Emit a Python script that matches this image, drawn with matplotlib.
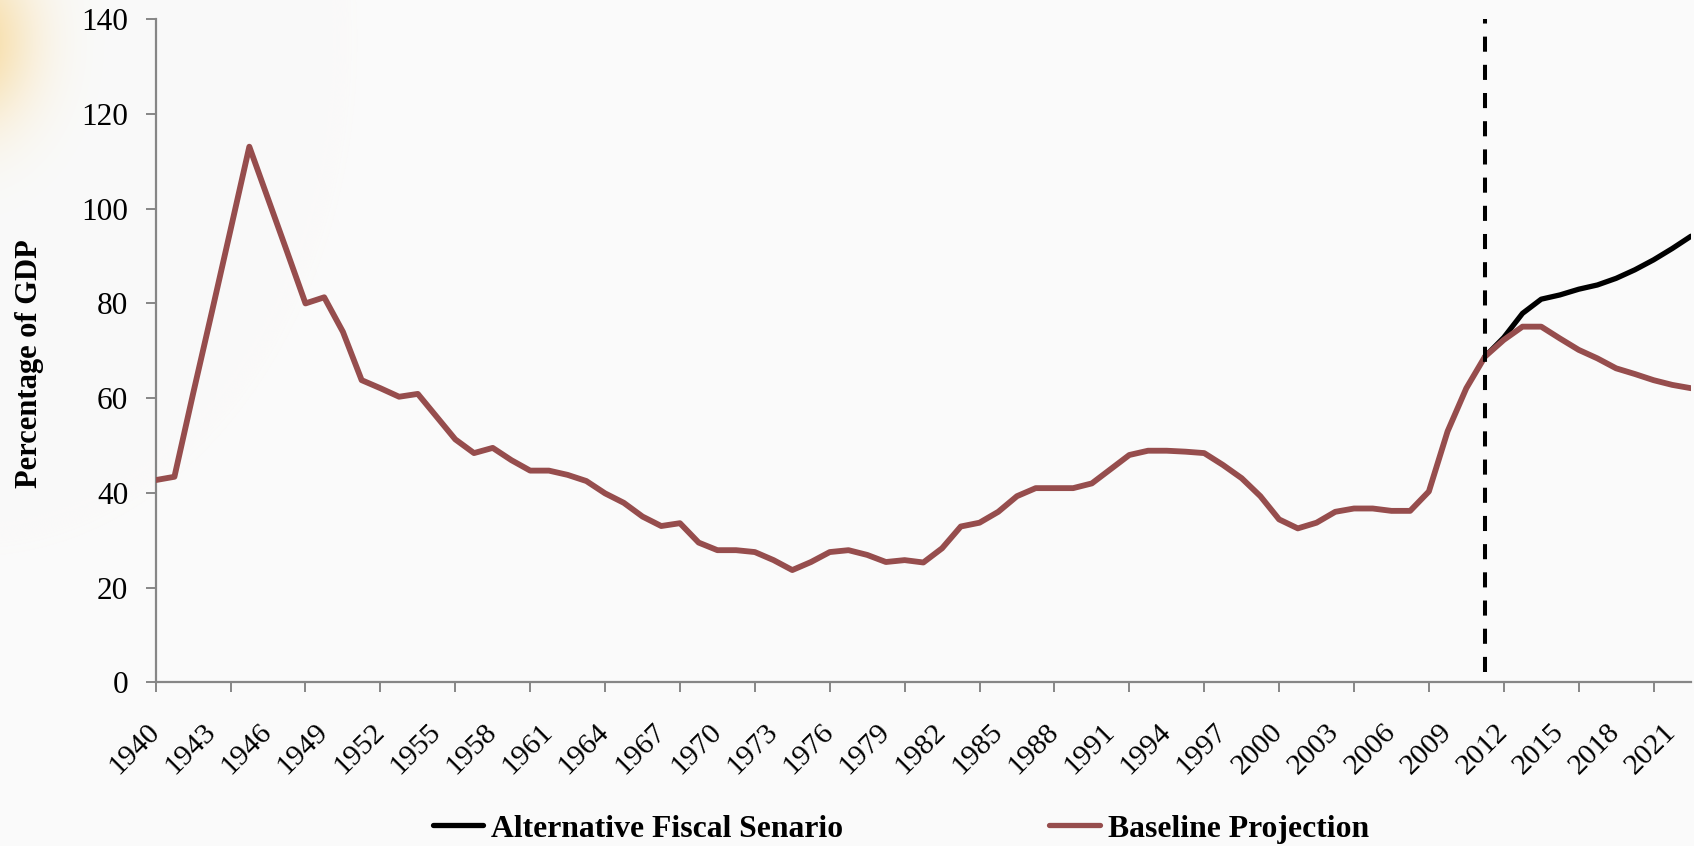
import numpy as np
import matplotlib
matplotlib.use("Agg")
import matplotlib.pyplot as plt
from matplotlib.lines import Line2D

# ---------------- data ----------------
years = list(range(1940, 2023))
baseline = [42.7, 43.4, 61.0, 78.2, 95.6, 113.1, 102.1, 91.1, 80.0, 81.3,
            74.0, 63.8, 62.1, 60.3, 60.9, 56.1, 51.3, 48.4, 49.5, 46.9,
            44.7, 44.7, 43.8, 42.5, 39.9, 37.9, 35.0, 33.0, 33.6, 29.5,
            27.9, 27.9, 27.5, 25.8, 23.7, 25.4, 27.5, 27.9, 26.9, 25.4,
            25.8, 25.3, 28.3, 32.9, 33.7, 36.0, 39.3, 41.0, 41.0, 41.0,
            42.0, 45.0, 48.0, 48.9, 48.9, 48.7, 48.4, 45.9, 43.1, 39.3,
            34.4, 32.5, 33.7, 36.0, 36.7, 36.7, 36.2, 36.2, 40.3, 53.0,
            62.1, 68.8, 72.3, 75.1, 75.1, 72.6, 70.2, 68.4, 66.3, 65.1,
            63.8, 62.8, 62.1]
alt_years = list(range(2011, 2023))
alternative = [68.8, 72.8, 77.9, 80.9, 81.8, 83.0, 83.9, 85.3, 87.1, 89.2, 91.6, 94.2]
projection_start = 2011
series_names = ["Alternative Fiscal Senario", "Baseline Projection"]
y_label = "Percentage of GDP"
y_ticks = list(range(0, 141, 20))
label_years = list(range(1940, 2022, 3))
tick_years = list(range(1940, 2023, 4))

# ---------------- style ----------------
BG = "#fafafa"
BROWN = "#964d4d"
AXIS = "#868686"
SERIF = ["Liberation Serif", "DejaVu Serif"]
plt.rcParams["font.family"] = SERIF

W, H, DPI = 1694, 846, 100
fig = plt.figure(figsize=(W / DPI, H / DPI), dpi=DPI, facecolor=BG)

# soft warm glow in top-left corner (background decoration)
bg = fig.add_axes([0, 0, 1, 1], zorder=-10)
bg.set_axis_off()
yy, xx = np.mgrid[0:H, 0:W]
d2 = ((xx + 30.0) / 45.0) ** 2 + ((yy - 40.0) / 60.0) ** 2
a = 0.65 * np.exp(-d2 / 2)
base = np.array([250, 250, 250]) / 255.0
glow = np.array([246, 205, 120]) / 255.0
img = base[None, None, :] * (1 - a[..., None]) + glow[None, None, :] * a[..., None]
bg.imshow(img, extent=[0, W, H, 0], aspect="auto", interpolation="bilinear")
bg.set_xlim(0, W)
bg.set_ylim(H, 0)

left, right = 155.7 / W, 1691.0 / W
top, bottom = 1 - 19.3 / H, 1 - 682.3 / H
ax = fig.add_axes([left, bottom, right - left, top - bottom])
ax.patch.set_alpha(0)

ax.plot(alt_years, alternative, color="black", lw=3.8, solid_joinstyle="round",
        solid_capstyle="round", zorder=3)
ax.plot(years, baseline, color=BROWN, lw=4.2, solid_joinstyle="round",
        solid_capstyle="round", zorder=4)
ax.vlines(projection_start, 2.2, 140, colors="black", linewidth=2.9,
          linestyles=(0, (3.75, 3.25)), zorder=5)

ax.set_xlim(years[0], years[-1])
ax.set_ylim(0, 140)

for s in ["top", "right"]:
    ax.spines[s].set_visible(False)
for s in ["left", "bottom"]:
    ax.spines[s].set_color(AXIS)
    ax.spines[s].set_linewidth(1.6)

ax.set_yticks(y_ticks)
ax.set_yticklabels([str(v) for v in y_ticks])
ax.tick_params(axis="y", direction="out", length=7.2, width=1.4, color=AXIS,
               labelsize=22.5, pad=12.5, labelcolor="black")

ax.xaxis.remove_overlapping_locs = False
ax.set_xticks(tick_years)
ax.set_xticklabels([])
ax.tick_params(axis="x", which="major", direction="out", length=7.2, width=1.4,
               color=AXIS)
ax.set_xticks(label_years, minor=True)
ax.set_xticklabels([str(y) for y in label_years], minor=True)
ax.tick_params(axis="x", which="minor", length=0, labelsize=21.5, pad=33,
               labelcolor="black")
for lab in ax.get_xticklabels(minor=True):
    lab.set_rotation(45)
    lab.set_ha("right")
    lab.set_va("center")
    lab.set_rotation_mode("anchor")

fig.text(29 / W, 1 - 364 / H, y_label, rotation=90, ha="center", va="center",
         fontsize=22, fontweight="bold", family=SERIF)

handles = [Line2D([], [], color="black", lw=3.8, solid_capstyle="round"),
           Line2D([], [], color=BROWN, lw=3.8, solid_capstyle="round")]
fig.legend(handles, series_names, loc="center", bbox_to_anchor=(0.5318, 0.0201),
           ncol=2, frameon=False, handlelength=1.6, handletextpad=0.25,
           columnspacing=6.5, prop={"family": SERIF, "weight": "bold", "size": 22.8},
           borderpad=0, borderaxespad=0)

fig.savefig("out.png", dpi=DPI, facecolor=BG)
